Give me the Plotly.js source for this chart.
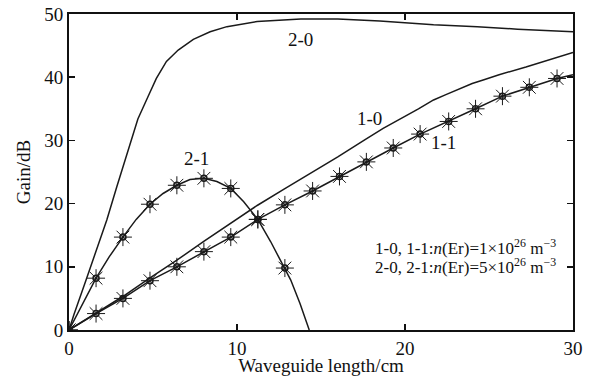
<!DOCTYPE html>
<html>
<head>
<meta charset="utf-8">
<script src="https://cdn.plot.ly/plotly-3.0.1.min.js"></script>
<style>html,body{margin:0;padding:0;background:#fff;}#chart{width:593px;height:376px;}</style>
</head>
<body>
<div id="chart"></div>
<script>
// Curve 2-0 (no markers)
var x20 = [0, 0.3, 1.0, 1.65, 2.25, 2.85, 3.35, 4.1, 4.7, 5.2, 5.8, 6.5, 7.4, 8.4, 9.4, 10.4, 11.2, 12.5, 13.8, 16.0, 18.5, 21.7, 24.3, 26.7, 30.0];
var y20 = [0, 2.5, 7.8, 12.7, 17.4, 22.7, 26.9, 33.4, 36.9, 39.8, 42.5, 44.3, 46.0, 47.2, 48.0, 48.5, 48.8, 49.0, 49.2, 49.2, 48.9, 48.3, 48.0, 47.6, 47.2];

// Curve 1-0 (no markers)
var x10 = [0, 1.6, 3.2, 4.8, 6.4, 8.0, 9.6, 11.2, 12.8, 14.4, 16.0, 17.6, 18.7, 20.8, 21.7, 22.4, 24.0, 24.7, 25.6, 27.2, 28.8, 30.0];
var y10 = [0, 2.7, 5.3, 8.2, 11.0, 14.0, 16.8, 19.7, 22.3, 24.8, 27.4, 30.1, 31.9, 35.0, 36.4, 37.2, 39.0, 39.6, 40.4, 41.6, 42.9, 43.9];

// Curve 1-1 (with markers)
var x11 = [0, 1.61, 3.21, 4.82, 6.42, 8.03, 9.63, 11.24, 12.85, 14.5, 16.1, 17.7, 19.3, 20.9, 22.6, 24.2, 25.8, 27.4, 29.05, 30.0];
var y11 = [0, 2.6, 5.0, 7.8, 10.0, 12.4, 14.7, 17.5, 19.8, 22.0, 24.3, 26.6, 28.8, 31.0, 33.0, 35.0, 37.0, 38.4, 39.8, 40.4];
var mx11 = [0, 1.61, 3.21, 4.82, 6.42, 8.03, 9.63, 11.24, 12.85, 14.5, 16.1, 17.7, 19.3, 20.9, 22.6, 24.2, 25.8, 27.4, 29.05];
var my11 = [0, 2.6, 5.0, 7.8, 10.0, 12.4, 14.7, 17.5, 19.8, 22.0, 24.3, 26.6, 28.8, 31.0, 33.0, 35.0, 37.0, 38.4, 39.8];

// Curve 2-1 (with markers)
var x21 = [0, 0.8, 1.61, 2.4, 3.21, 4.0, 4.82, 5.6, 6.42, 7.2, 8.03, 8.8, 9.63, 10.4, 11.24, 12.0, 12.85, 13.2, 13.75, 14.3];
var y21 = [0, 4.2, 8.2, 11.6, 14.7, 17.5, 19.9, 21.6, 22.9, 23.8, 24.0, 23.5, 22.4, 20.3, 17.5, 14.0, 9.8, 7.9, 4.2, 0];
var mx21 = [0, 1.61, 3.21, 4.82, 6.42, 8.03, 9.63, 11.24, 12.85];
var my21 = [0, 8.2, 14.7, 19.9, 22.9, 24.0, 22.4, 17.5, 9.8];

var xTicks = [0, 10, 20, 30];
var yTicks = [0, 10, 20, 30, 40, 50];

var INK = '#1a1a1a';
var lineStyle = {color: INK, width: 1.5};
function markerTraces(mx, my) {
  return [
    {x: mx, y: my, mode: 'markers', type: 'scatter', showlegend: false, hoverinfo: 'skip',
     marker: {symbol: 'asterisk-open', size: 15, color: INK, line: {color: INK, width: 1}}},
    {x: mx, y: my, mode: 'markers', type: 'scatter', showlegend: false, hoverinfo: 'skip',
     marker: {symbol: 'circle-open', size: 6, color: INK, line: {color: INK, width: 1.5}}}
  ];
}

var data = [
  {x: x20, y: y20, mode: 'lines', type: 'scatter', line: lineStyle, showlegend: false},
  {x: x10, y: y10, mode: 'lines', type: 'scatter', line: lineStyle, showlegend: false},
  {x: x11, y: y11, mode: 'lines', type: 'scatter', line: lineStyle, showlegend: false},
  {x: x21, y: y21, mode: 'lines', type: 'scatter', line: lineStyle, showlegend: false}
].concat(markerTraces(mx11, my11)).concat(markerTraces(mx21, my21));

var FAM = 'Liberation Serif, Times New Roman, serif';
var font = {family: FAM, color: '#111', size: 18};

var layout = {
  width: 593, height: 376,
  margin: {l: 69, r: 20, t: 14, b: 46},
  paper_bgcolor: '#fff', plot_bgcolor: '#fff',
  font: font,
  xaxis: {
    range: [0, 30], tickvals: xTicks, ticktext: xTicks.map(String),
    ticks: 'inside', ticklen: 6, tickwidth: 1.5, tickcolor: '#111',
    showline: true, linecolor: '#111', linewidth: 2, mirror: 'allticks',
    showgrid: false, zeroline: false,
    tickfont: {family: FAM, size: 19, color: '#111'},
    title: {text: 'Waveguide length/cm', font: {family: FAM, size: 19, color: '#111'}, standoff: 2}
  },
  yaxis: {
    range: [0, 50], tickvals: yTicks, ticktext: yTicks.map(String),
    ticks: 'inside', ticklen: 6, tickwidth: 1.5, tickcolor: '#111',
    showline: true, linecolor: '#111', linewidth: 2, mirror: 'allticks',
    showgrid: false, zeroline: false,
    tickfont: {family: FAM, size: 19, color: '#111'},
    title: {text: 'Gain/dB', font: {family: FAM, size: 19, color: '#111'}, standoff: 9}
  },
  annotations: [
    {x: 13.76, y: 45.9, text: '2-0', showarrow: false, font: {family: FAM, size: 19, color: '#111'}},
    {x: 7.56, y: 27.1, text: '2-1', showarrow: false, font: {family: FAM, size: 19, color: '#111'}},
    {x: 17.87, y: 33.5, text: '1-0', showarrow: false, font: {family: FAM, size: 19, color: '#111'}},
    {x: 22.27, y: 29.6, text: '1-1', showarrow: false, font: {family: FAM, size: 19, color: '#111'}},
    {x: 29.12, y: 13.1, xanchor: 'right', text: '1-0, 1-1:<i>n</i>(Er)=1×10<sup>26</sup> m<sup>−3</sup>', showarrow: false, font: {family: FAM, size: 17, color: '#111'}},
    {x: 29.12, y: 10.2, xanchor: 'right', text: '2-0, 2-1:<i>n</i>(Er)=5×10<sup>26</sup> m<sup>−3</sup>', showarrow: false, font: {family: FAM, size: 17, color: '#111'}}
  ]
};

Plotly.newPlot('chart', data, layout, {displayModeBar: false, staticPlot: true});
</script>
</body>
</html>
